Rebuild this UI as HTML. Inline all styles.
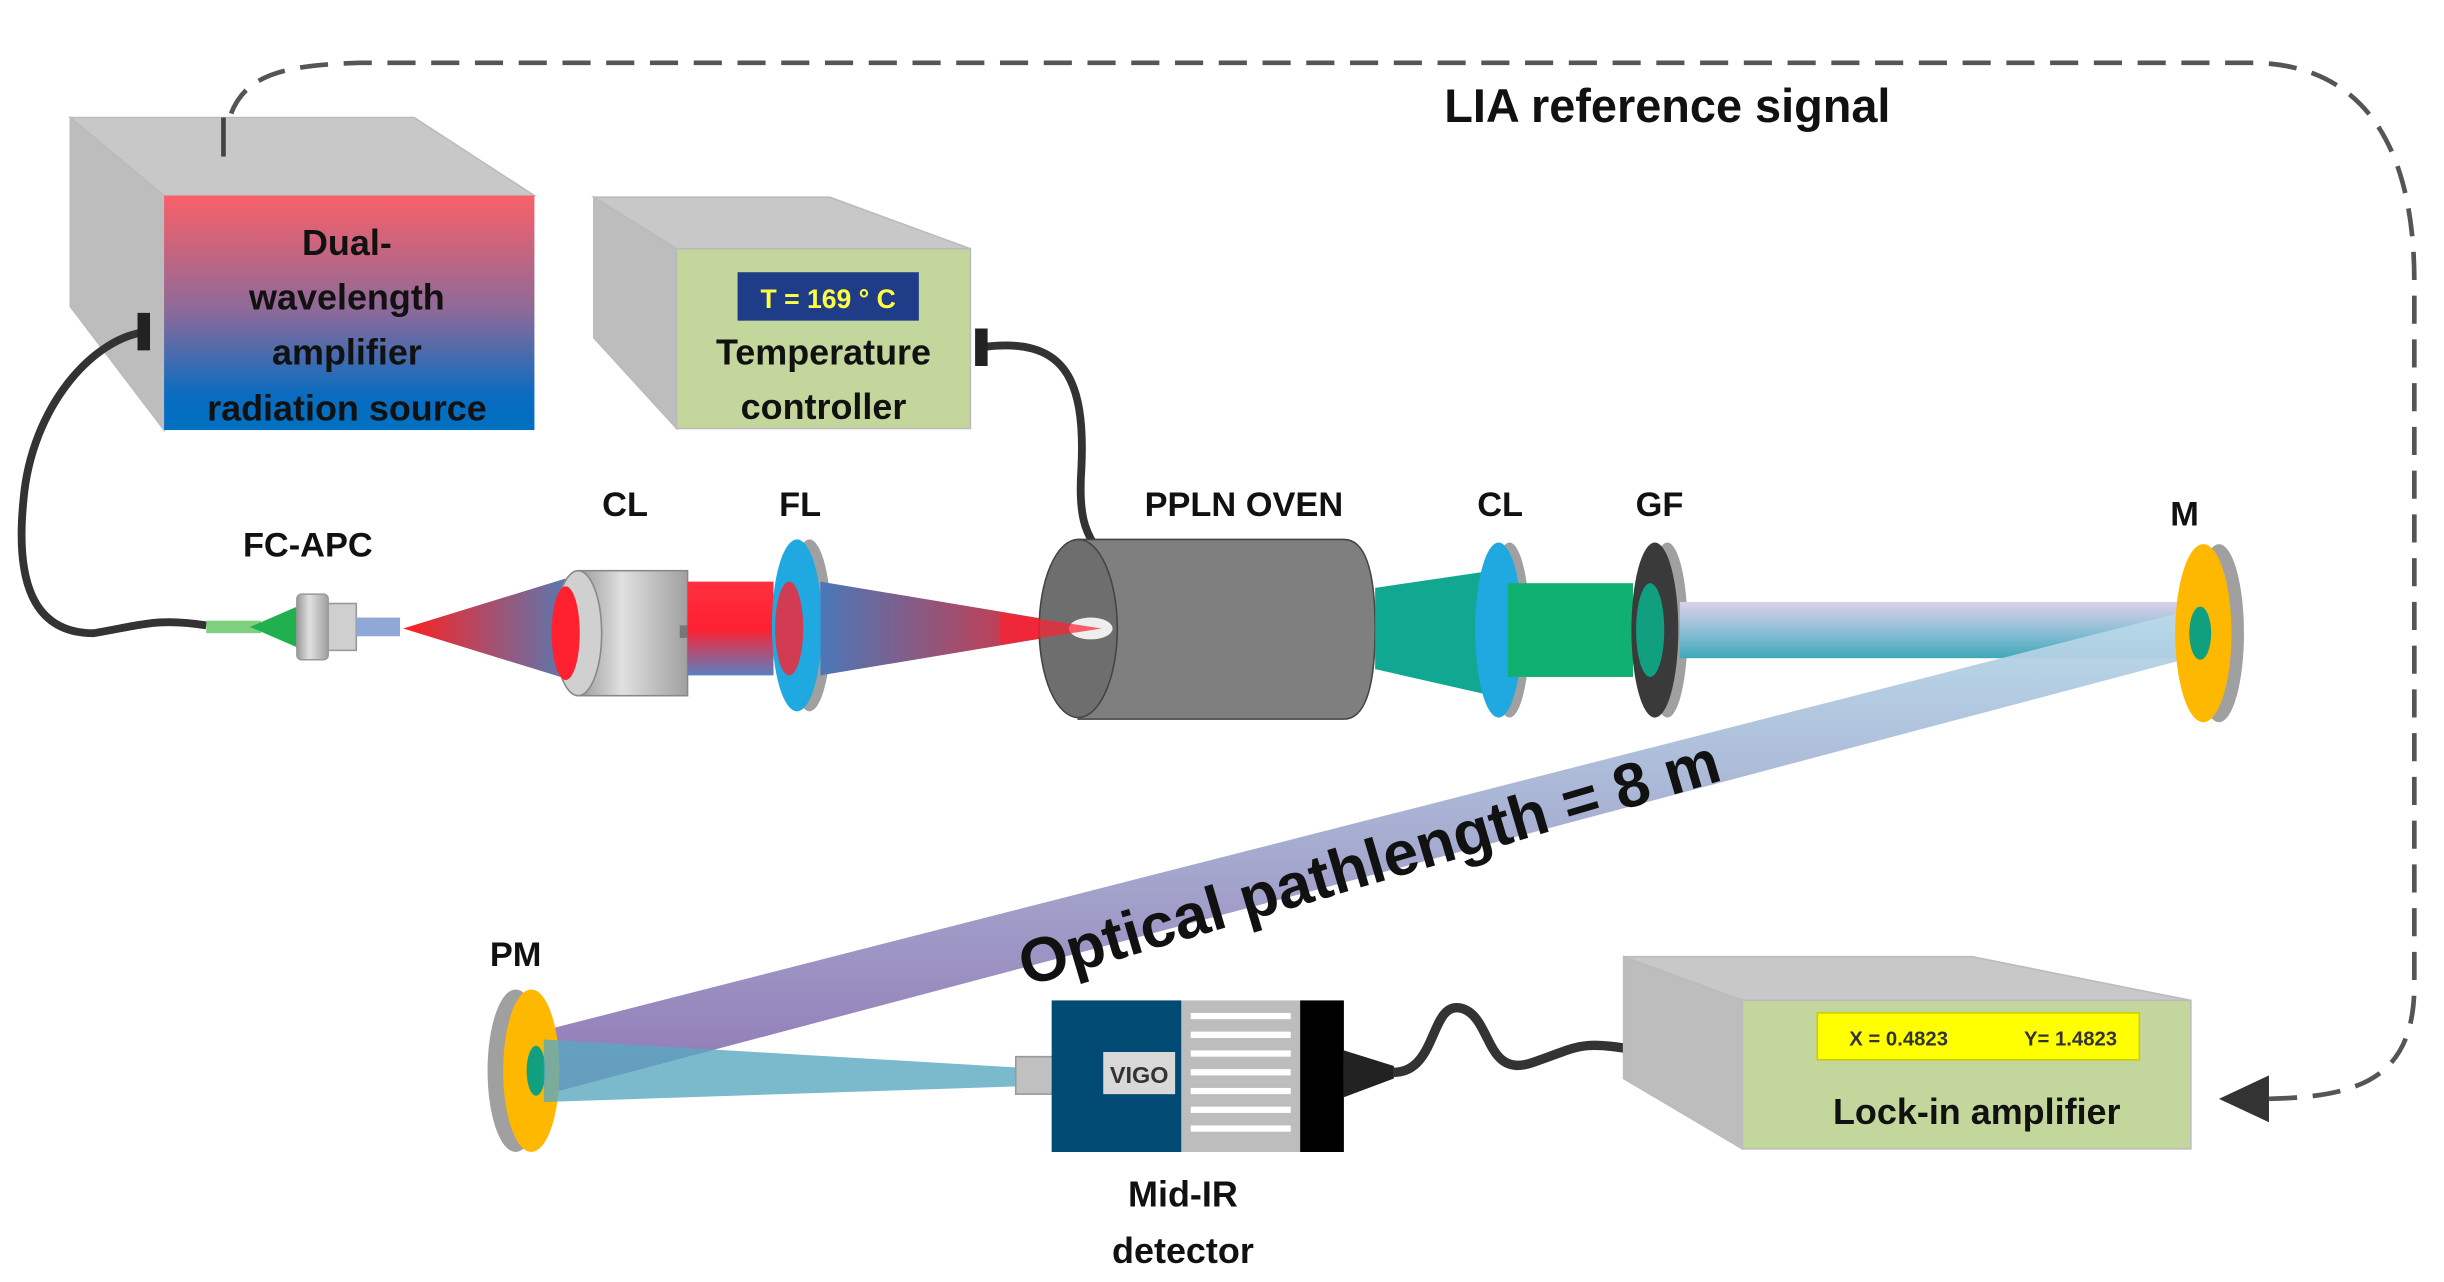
<!DOCTYPE html>
<html><head><meta charset="utf-8"><style>
html,body{margin:0;padding:0;background:#fff;}
svg{display:block;}
text{font-family:"Liberation Sans",sans-serif;font-weight:bold;}
</style></head><body>
<svg width="2444" height="1282" viewBox="0 0 1564 820" xmlns="http://www.w3.org/2000/svg">
<defs>
<linearGradient id="src" x1="0" y1="0" x2="0" y2="1">
<stop offset="0" stop-color="#fa6068"/><stop offset="0.5" stop-color="#8a6a9a"/><stop offset="0.85" stop-color="#0a6cc0"/><stop offset="1" stop-color="#0070c0"/></linearGradient>
<linearGradient id="redcone" x1="0" y1="0" x2="1" y2="0">
<stop offset="0" stop-color="#ff2020"/><stop offset="1" stop-color="#5a78b0"/></linearGradient>
<linearGradient id="redcone2" x1="0" y1="0" x2="1" y2="0">
<stop offset="0" stop-color="#4a78b8"/><stop offset="1" stop-color="#ff2020"/></linearGradient>
<linearGradient id="rb" x1="0" y1="0" x2="0" y2="1">
<stop offset="0" stop-color="#ff3040"/><stop offset="0.5" stop-color="#ff2030"/><stop offset="1" stop-color="#5a80c0"/></linearGradient>
<linearGradient id="band" x1="0" y1="0" x2="0" y2="1">
<stop offset="0" stop-color="#ddd0e8"/><stop offset="0.5" stop-color="#8fc0d8"/><stop offset="1" stop-color="#40a8b8"/></linearGradient>
<linearGradient id="diag" x1="0" y1="0" x2="0" y2="1">
<stop offset="0" stop-color="#b8dcea"/><stop offset="1" stop-color="#8a70b0"/></linearGradient>
<linearGradient id="grey" x1="0" y1="0" x2="1" y2="0">
<stop offset="0" stop-color="#9a9a9a"/><stop offset="0.4" stop-color="#e0e0e0"/><stop offset="1" stop-color="#a0a0a0"/></linearGradient>
</defs>

<!-- dashed reference line -->
<path d="M143,100 C145,50 170,42 230,40 L1440,40 C1510,40 1545,90 1545,180 L1545,630 C1545,690 1510,702 1450,703" fill="none" stroke="#555" stroke-width="3" stroke-dasharray="18,10"/>
<polygon points="1420,703 1452,688 1452,718" fill="#333"/>
<text x="1067" y="78" font-size="30" text-anchor="middle" fill="#111">LIA reference signal</text>

<!-- source box -->
<polygon points="45,75 265,75 342,125 105,125" fill="#c8c8c8" stroke="#bbb"/>
<polygon points="45,75 105,125 105,275 45,196" fill="#bdbdbd" stroke="#bbb"/>
<rect x="105" y="125" width="237" height="150" fill="url(#src)"/>
<path d="M143,100 L143,75" stroke="#444" stroke-width="3"/>
<g font-size="23" text-anchor="middle" fill="#111">
<text x="222" y="163">Dual-</text><text x="222" y="198">wavelength</text><text x="222" y="233">amplifier</text><text x="222" y="269">radiation source</text></g>

<!-- temp controller -->
<polygon points="380,126 531,126 621,159 433,159" fill="#c8c8c8" stroke="#bbb"/>
<polygon points="380,126 433,159 433,274 380,216" fill="#bdbdbd" stroke="#bbb"/>
<rect x="433" y="159" width="188" height="115" fill="#c3d69b" stroke="#bbb"/>
<rect x="472" y="174" width="116" height="31" fill="#1f3c88"/>
<text x="530" y="197" font-size="17" text-anchor="middle" fill="#ffff40">T = 169 ° C</text>
<text x="527" y="233" font-size="23" text-anchor="middle" fill="#111">Temperature</text>
<text x="527" y="268" font-size="23" text-anchor="middle" fill="#111">controller</text>

<!-- cables -->
<path d="M95,212 C60,215 20,260 15,320 C10,370 20,405 60,405 C90,400 100,395 132,400" fill="none" stroke="#333" stroke-width="5"/>
<path d="M88,200 l8,0 l0,24 l-8,0z" fill="#222"/>
<path d="M628,222 C680,215 695,240 692,300 C690,330 695,340 700,348" fill="none" stroke="#333" stroke-width="5"/>
<path d="M624,210 l8,0 l0,24 l-8,0z" fill="#222"/>

<!-- FC-APC -->
<rect x="132" y="397" width="35" height="8" fill="#7ed07e"/>
<polygon points="160,401 190,388 190,414" fill="#20b050"/>
<rect x="190" y="380" width="20" height="42" rx="3" fill="url(#grey)" stroke="#999"/>
<rect x="210" y="386" width="18" height="30" fill="#cfcfcf" stroke="#999"/>
<rect x="228" y="395" width="28" height="12" fill="#8fa8d8"/>
<text x="197" y="356" font-size="22" text-anchor="middle" fill="#111">FC-APC</text>

<!-- red cone to CL -->
<polygon points="258,402 362,370 362,434" fill="url(#redcone)"/>
<!-- CL -->
<rect x="370" y="365" width="70" height="80" fill="url(#grey)" stroke="#888"/>
<ellipse cx="370" cy="405" rx="15" ry="40" fill="#d0d0d0" stroke="#888"/>
<ellipse cx="362" cy="405" rx="9" ry="30" fill="#ff2030"/>
<rect x="435" y="400" width="8" height="8" fill="#777"/>
<rect x="440" y="372" width="55" height="60" fill="url(#rb)"/>
<!-- FL -->
<ellipse cx="518" cy="400" rx="14" ry="55" fill="#a0a0a0"/>
<ellipse cx="510" cy="400" rx="16" ry="55" fill="#20a8e0"/>
<ellipse cx="505" cy="402" rx="9" ry="30" fill="#ff2030" opacity="0.8"/>
<polygon points="525,372 705,402 525,432" fill="url(#redcone2)"/>
<text x="400" y="330" font-size="22" text-anchor="middle" fill="#111">CL</text>
<text x="512" y="330" font-size="22" text-anchor="middle" fill="#111">FL</text>

<!-- oven -->
<path d="M690,345 L860,345 Q880,345 880,402 Q880,460 860,460 L690,460 Z" fill="#7f7f7f" stroke="#444"/>
<ellipse cx="690" cy="402" rx="25" ry="57" fill="#6e6e6e" stroke="#444"/>
<ellipse cx="698" cy="402" rx="14" ry="7" fill="#eee"/>
<polygon points="640,392 705,402 640,412" fill="#ff2030" opacity="0.7"/>
<text x="796" y="330" font-size="22" text-anchor="middle" fill="#111">PPLN OVEN</text>

<!-- green after oven -->
<polygon points="880,376 955,365 955,445 880,428" fill="#10a890"/>
<ellipse cx="966" cy="403" rx="13" ry="56" fill="#a0a0a0"/>
<ellipse cx="959" cy="403" rx="15" ry="56" fill="#20a8e0"/>
<rect x="965" y="373" width="80" height="60" fill="#10b070"/>
<ellipse cx="1067" cy="403" rx="13" ry="56" fill="#a0a0a0"/>
<ellipse cx="1059" cy="403" rx="15" ry="56" fill="#3a3a3a"/>
<ellipse cx="1056" cy="403" rx="9" ry="30" fill="#10a080"/>
<text x="960" y="330" font-size="22" text-anchor="middle" fill="#111">CL</text>
<text x="1062" y="330" font-size="22" text-anchor="middle" fill="#111">GF</text>

<!-- horizontal band -->
<rect x="1075" y="385" width="330" height="36" fill="url(#band)"/>
<!-- diagonal beam -->
<polygon points="1410,388 1412,418 350,700 345,660" fill="url(#diag)" opacity="0.95"/>
<!-- M -->
<ellipse cx="1420" cy="405" rx="16" ry="57" fill="#a0a0a0"/>
<ellipse cx="1410" cy="405" rx="18" ry="57" fill="#ffb800"/>
<ellipse cx="1408" cy="405" rx="7" ry="17" fill="#10a080"/>
<text x="1398" y="336" font-size="22" text-anchor="middle" fill="#111">M</text>

<!-- PM -->
<ellipse cx="330" cy="685" rx="18" ry="52" fill="#a0a0a0"/>
<ellipse cx="340" cy="685" rx="18" ry="52" fill="#ffb800"/>
<ellipse cx="343" cy="685" rx="6" ry="16" fill="#10a080"/>
<polygon points="348,665 652,683 652,695 348,705" fill="#5aa8c0" opacity="0.8"/>
<text x="330" y="618" font-size="22" text-anchor="middle" fill="#111">PM</text>

<text transform="translate(880,565) rotate(-16.5)" font-size="40" text-anchor="middle" fill="#111">Optical pathlength = 8 m</text>

<!-- detector -->
<rect x="650" y="676" width="24" height="24" fill="#c0c0c0" stroke="#999"/>
<rect x="673" y="640" width="83" height="97" fill="#004a74"/>
<rect x="706" y="673" width="46" height="27" fill="#d8d8d8"/>
<text x="729" y="693" font-size="15" text-anchor="middle" fill="#333" font-weight="normal">VIGO</text>
<rect x="756" y="640" width="76" height="97" fill="#bdbdbd"/>
<g fill="#fff"><rect x="762" y="648" width="64" height="4"/><rect x="762" y="660" width="64" height="4"/><rect x="762" y="672" width="64" height="4"/><rect x="762" y="684" width="64" height="4"/><rect x="762" y="696" width="64" height="4"/><rect x="762" y="708" width="64" height="4"/><rect x="762" y="720" width="64" height="4"/></g>
<rect x="832" y="640" width="28" height="97" fill="#000"/>
<polygon points="860,672 892,682 892,690 860,702" fill="#222"/>
<path d="M892,686 C920,686 915,640 935,645 C955,650 950,690 980,680 C1010,670 1010,665 1048,672" fill="none" stroke="#333" stroke-width="6"/>
<polygon points="1045,664 1095,668 1095,686 1045,682" fill="#222"/>
<text x="757" y="772" font-size="23" text-anchor="middle" fill="#111">Mid-IR</text>
<text x="757" y="808" font-size="23" text-anchor="middle" fill="#111">detector</text>

<!-- lock-in -->
<polygon points="1039,612 1262,612 1402,640 1115,640" fill="#c8c8c8" stroke="#bbb"/>
<polygon points="1039,612 1115,640 1115,735 1039,690" fill="#bdbdbd" stroke="#bbb"/>
<rect x="1115" y="640" width="287" height="95" fill="#c3d69b" stroke="#bbb"/>
<rect x="1163" y="648" width="206" height="30" fill="#ffff00" stroke="#cccc00"/>
<text x="1215" y="669" font-size="13" text-anchor="middle" fill="#333">X = 0.4823</text>
<text x="1325" y="669" font-size="13" text-anchor="middle" fill="#333">Y= 1.4823</text>
<text x="1265" y="719" font-size="23" text-anchor="middle" fill="#111">Lock-in amplifier</text>
</svg>
</body></html>
